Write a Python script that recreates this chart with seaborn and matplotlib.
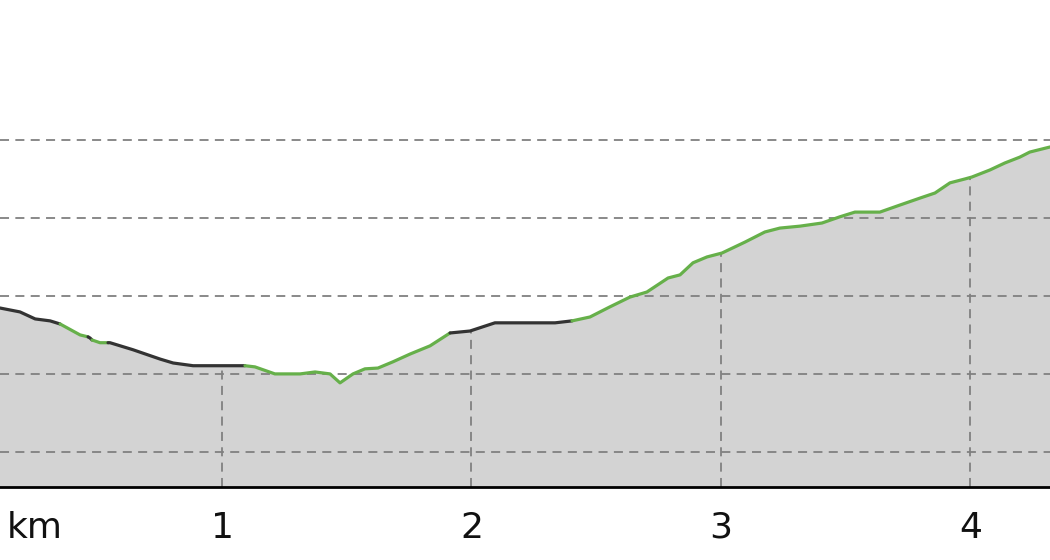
import numpy as np
import pandas as pd
import matplotlib
matplotlib.use("Agg")
import matplotlib.pyplot as plt
import seaborn as sns

# elevation profile (distance in km, elevation in m)
distance_km = [0.110, 0.190, 0.251, 0.311, 0.351, 0.431, 0.463, 0.471, 0.479, 0.511,
               0.543, 0.551, 0.643, 0.752, 0.804, 0.884, 1.092, 1.132, 1.212, 1.313,
               1.373, 1.433, 1.473, 1.525, 1.573, 1.625, 1.685, 1.754, 1.834, 1.914,
               1.994, 2.094, 2.234, 2.335, 2.403, 2.475, 2.555, 2.635, 2.703, 2.788,
               2.836, 2.888, 2.944, 3.004, 3.096, 3.176, 3.236, 3.317, 3.405, 3.477,
               3.537, 3.637, 3.717, 3.798, 3.858, 3.918, 3.978, 4.006, 4.078, 4.138,
               4.198, 4.238, 4.319]
elevation_m = [496.9, 495.9, 494.1, 493.6, 492.8, 490.0, 489.5, 489.2, 488.7, 488.0,
               488.0, 488.0, 486.2, 483.8, 482.8, 482.1, 482.1, 481.8, 480.0, 480.0,
               480.5, 480.0, 477.7, 480.0, 481.3, 481.5, 483.1, 485.1, 487.2, 490.5,
               491.0, 493.1, 493.1, 493.1, 493.6, 494.6, 497.2, 499.7, 501.0, 504.6,
               505.4, 508.5, 510.0, 511.0, 513.8, 516.4, 517.4, 517.9, 518.7, 520.3,
               521.5, 521.5, 523.3, 525.1, 526.4, 529.0, 530.0, 530.5, 532.3, 534.1,
               535.6, 536.9, 538.2]

# surface segments: start km, end km, type
seg_start = [0.110, 0.351, 0.463, 0.479, 0.543, 1.092, 1.914, 2.403]
seg_end = [0.351, 0.463, 0.479, 0.543, 1.092, 1.914, 2.403, 4.319]
seg_type = ["road", "trail", "road", "trail", "road", "trail", "road", "trail"]
type_colors = {"road": "#333333", "trail": "#66b04a"}

km_ticks = [1, 2, 3, 4]
elev_grid = [460, 480, 500, 520, 540]

df = pd.DataFrame({"km": distance_km, "elev": elevation_m})

sns.set_style("white")
fig = plt.figure(figsize=(10.5, 5.6), dpi=100)
ax = fig.add_axes([0, 0.1304, 1, 0.8696])

ymin, ymax = 451.0, 575.9
xmin, xmax = 0.110, 4.319

ax.fill_between(df["km"], df["elev"], ymin, color="#d3d3d3", lw=0, zorder=1)

for g in elev_grid:
    ax.axhline(g, color="#808080", lw=1.3, ls=(0, (5, 3.5)), zorder=2)
for k in km_ticks:
    top = np.interp(k, df["km"], df["elev"])
    ax.vlines(k, ymin, top, color="#808080", lw=1.3, ls=(0, (5, 3.5)), zorder=2)

for s, e, t in zip(seg_start, seg_end, seg_type):
    part = df[(df["km"] >= s - 1e-9) & (df["km"] <= e + 1e-9)]
    sns.lineplot(data=part, x="km", y="elev", ax=ax, color=type_colors[t],
                 lw=2.3, estimator=None, sort=False, zorder=3)

ax.set_xlim(xmin, xmax)
ax.set_ylim(ymin, ymax)
ax.set_xticks([0.25] + km_ticks)
ax.set_xticklabels(["km"] + [str(k) for k in km_ticks])
ax.tick_params(axis="x", length=0, pad=17, labelsize=26, colors="#111111")
ax.set_yticks([])
ax.set_xlabel("")
ax.set_ylabel("")
for side in ["top", "left", "right"]:
    ax.spines[side].set_visible(False)
ax.spines["bottom"].set_color("black")
ax.spines["bottom"].set_linewidth(2.0)
ax.spines["bottom"].set_zorder(4)

fig.savefig("out.png", dpi=100)
